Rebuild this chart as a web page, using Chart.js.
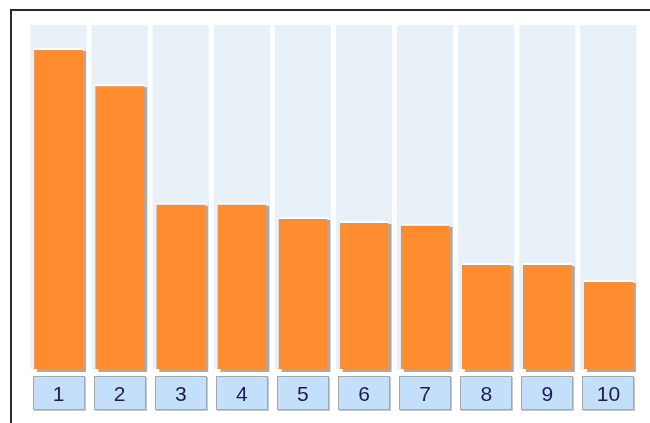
<!DOCTYPE html>
<html><head><meta charset="utf-8">
<script src="https://cdn.jsdelivr.net/npm/chart.js@4/dist/chart.umd.min.js"></script>
<style>html,body{margin:0;padding:0;background:#fff;}#wrap{width:650px;height:423px;position:relative;}</style>
</head><body><div id="wrap"><canvas id="c" width="650" height="423"></canvas></div>
<script>
const categories = ['1','2','3','4','5','6','7','8','9','10'];
const values = [93.3, 82.8, 48.3, 48.3, 44.2, 43.0, 42.2, 30.8, 30.8, 25.9];
const maxValue = 100;
const backdrop = categories.map(() => maxValue);

const framePlugin = {
  id: 'frame',
  beforeDraw(chart) {
    const ctx = chart.ctx;
    ctx.save();
    ctx.fillStyle = '#ffffff';
    ctx.fillRect(0, 0, chart.width, chart.height);
    ctx.strokeStyle = '#2a2a2a';
    ctx.lineWidth = 2;
    ctx.beginPath();
    ctx.moveTo(11, chart.height);
    ctx.lineTo(11, 10);
    ctx.lineTo(chart.width, 10);
    ctx.stroke();
    // label boxes
    const xs = chart.scales.x;
    const half = 26;
    categories.forEach((c, i) => {
      const cx = xs.getPixelForValue(i);
      const x0 = Math.round(cx - half), y0 = 376, w = half * 2, h = 34;
      ctx.fillStyle = '#c8c8c8';
      ctx.fillRect(x0 + 1, y0 + 1, w, h);
      ctx.fillStyle = '#c4dff9';
      ctx.fillRect(x0, y0, w, h);
      ctx.strokeStyle = '#a0a8b0';
      ctx.lineWidth = 1;
      ctx.strokeRect(x0 + 0.5, y0 + 0.5, w - 1, h - 1);
    });
    ctx.restore();
  },
  beforeDatasetDraw(chart, args) {
    if (args.index === 1) {
      const ctx = chart.ctx;
      const meta = chart.getDatasetMeta(1);
      ctx.save();
      ctx.fillStyle = '#a9a9a9';
      meta.data.forEach(el => {
        const p = el.getProps(['x', 'y', 'width', 'base'], true);
        ctx.fillRect(p.x - p.width / 2 + 3, p.y + 3, p.width, p.base - p.y);
      });
      ctx.restore();
    }
  }
};

new Chart(document.getElementById('c'), {
  type: 'bar',
  data: {
    labels: categories,
    datasets: [
      { data: backdrop, backgroundColor: '#e8f0f8', barPercentage: 0.92, categoryPercentage: 1, grouped: false, order: 2 },
      { data: values, backgroundColor: '#ff8c2e', borderColor: '#ffffff', borderWidth: { top: 2, left: 0, right: 0, bottom: 0 }, borderSkipped: 'bottom', barPercentage: 0.8, categoryPercentage: 1, grouped: false, order: 1 }
    ]
  },
  options: {
    responsive: false,
    animation: false,
    devicePixelRatio: 1,
    layout: { padding: { left: 28, right: 11, top: 25, bottom: 0 } },
    plugins: { legend: { display: false }, tooltip: { enabled: false } },
    scales: {
      x: {
        grid: { display: false, drawTicks: false },
        border: { display: false },
        ticks: { font: { family: 'Arial, "Liberation Sans"', size: 21 }, color: '#1c1c52', padding: 14, maxRotation: 0, autoSkip: false },
        afterFit(s) { s.height = 54; }
      },
      y: { display: false, min: 0, max: maxValue }
    }
  },
  plugins: [framePlugin]
});
</script>
</body></html>
